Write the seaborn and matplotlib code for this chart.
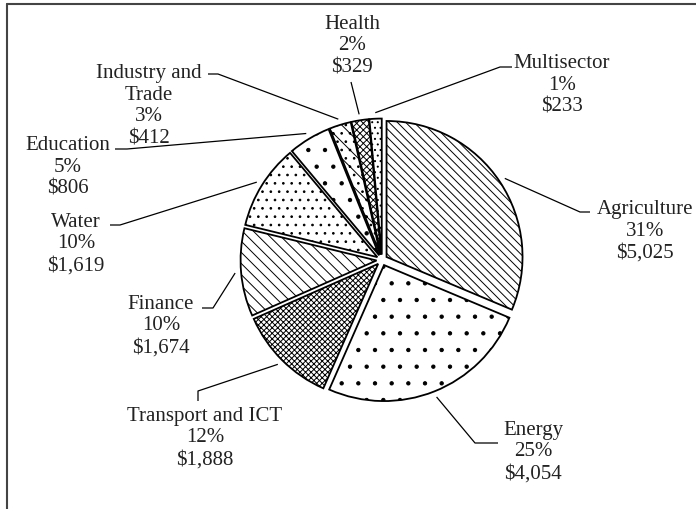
import numpy as np
import matplotlib
matplotlib.use("Agg")
import matplotlib.pyplot as plt
from matplotlib.lines import Line2D
import seaborn as sns

# data (millions of $), clockwise from 12 o'clock
sectors = ["Agriculture", "Energy", "Transport and ICT", "Finance", "Water",
           "Education", "Industry and\nTrade", "Health", "Multisector"]
amounts = [5025, 4054, 1888, 1674, 1619, 806, 412, 329, 233]
hatches = ["\\\\\\\\", ".", "xxxxxx", "\\\\\\", "..", ".", "\\\\..", "xxxxx", "..."]

# label placement in pixels (from top-left): text centre, elbow, stub end
label_pos = [(645, 231), (533, 452), (205, 438), (161, 326), (76, 244),
             (68, 167), (149, 106), (352, 46), (562, 85)]
elbows = [(580, 213), (475, 444), (198, 392), (213, 309), (120, 226),
          (127, 150), (218, 75), (351, 83), (500, 68)]
stubs = [(590, 213), (498, 444), (198, 402), (202, 309), (110, 226),
         (115, 150), (208, 75), (351, 83), (512, 68)]

W, H = 696, 510
sns.set_theme(style="white")
plt.rcParams["font.family"] = ["Liberation Serif", "DejaVu Serif"]
plt.rcParams["hatch.linewidth"] = 0.7
plt.rcParams["hatch.color"] = "black"

fig = plt.figure(figsize=(W / 100, H / 100), dpi=100)
ax = fig.add_axes([0, 0, 1, 1])

cx, cy, r = 382, H - 261, 136
gap = 0.04 * r  # explode is in data units here
wedges, _ = ax.pie(amounts, explode=[gap] * len(amounts), startangle=90,
                   counterclock=False, center=(cx, cy), radius=r,
                   wedgeprops=dict(facecolor="white", edgecolor="black", linewidth=1.3))
for w, h in zip(wedges, hatches):
    w.set_hatch(h)
ax.set_xlim(0, W)
ax.set_ylim(0, H)
ax.set_aspect("auto")
ax.axis("off")

total = sum(amounts)
for i, w in enumerate(wedges):
    mid = np.deg2rad((w.theta1 + w.theta2) / 2)
    px = w.center[0] + (w.r + 6) * np.cos(mid)
    py = w.center[1] + (w.r + 6) * np.sin(mid)
    ex, ey = elbows[i]
    sx, sy = stubs[i]
    ax.plot([px, ex, sx], [py, H - ey, H - sy], color="black", lw=0.9,
            solid_capstyle="butt")
    pct = round(amounts[i] / total * 100)
    txt = f"{sectors[i]}\n{pct}%\n\\${amounts[i]:,}"
    tx, ty = label_pos[i]
    ax.text(tx, H - ty, txt, ha="center", va="center", multialignment="center",
            fontsize=15, linespacing=1.2, color="#222222")

# frame on left and top only
fig.add_artist(Line2D([7 / W, 7 / W], [0, 1 - 5 / H], color="#444444", lw=1.5))
fig.add_artist(Line2D([7 / W, 1], [1 - 5 / H, 1 - 5 / H], color="#444444", lw=1.5))

fig.savefig("out.png", dpi=100, facecolor="white")
